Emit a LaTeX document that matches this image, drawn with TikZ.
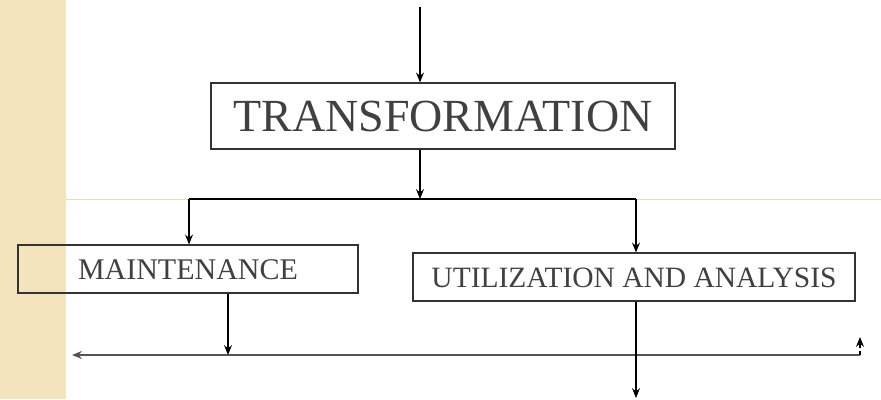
\documentclass[tikz,border=0pt]{standalone}
\usepackage{fontspec}
\setmainfont{Liberation Serif}
\usetikzlibrary{arrows.meta}
\definecolor{strip}{HTML}{F3E4BE}
\definecolor{stripline}{HTML}{E9DBB2}
\definecolor{textgray}{HTML}{404040}
\definecolor{linegray}{HTML}{555555}

\begin{document}
\begin{tikzpicture}[x=1pt,y=-1pt,
    stage/.style={draw=black!80,line width=1.1pt,inner sep=0pt,text=textgray,text depth=0pt},
    flow/.style={-{Stealth[length=10pt,width=8pt,inset=3.5pt]},line width=1.1pt}
    ]
    \useasboundingbox (0,0) rectangle (881,399);
    \fill[strip] (0,0) rectangle (66,399);
    \draw[stripline,line width=1pt] (66,199) -- (881,199);

    \node[stage,minimum width=464pt,minimum height=66pt,text height=31pt,
        font=\fontsize{46}{50}\selectfont] (trans) at (443,116) {TRANSFORMATION};
    \node[stage,minimum width=340pt,minimum height=48pt,text height=20pt,
        font=\fontsize{30}{34}\selectfont] (maint) at (188,269) {MAINTENANCE};
    \node[stage,minimum width=442pt,minimum height=48pt,text height=20pt,
        font=\fontsize{29.5}{34}\selectfont] (util) at (634,277) {UTILIZATION AND ANALYSIS};

    \coordinate (in) at (420,7);
    \coordinate (split) at (420,199);
    \coordinate (splitL) at (189,199);
    \coordinate (splitR) at (636,199);
    \coordinate (join) at (228,355);
    \coordinate (loopR) at (860,355);
    \coordinate (loopL) at (72,355);
    \coordinate (back) at (860,337);
    \coordinate (out) at (636,398);

    \draw[flow] (in) -- (in |- trans.north);
    \draw[flow] (in |- trans.south) -- (split);
    \draw[line width=1.1pt] (splitL) -- (splitR);
    \draw[flow] (splitL) -- (splitL |- maint.north);
    \draw[flow] (splitR) -- (splitR |- util.north);
    \draw[flow,linegray,line width=1.6pt] (loopR) -- (loopL);
    \draw[flow] (join |- maint.south) -- (join);
    \draw[flow] (out |- util.south) -- (out);
    \draw[flow,dash pattern=on 4pt off 3pt] (loopR) -- (back);
\end{tikzpicture}
\end{document}
